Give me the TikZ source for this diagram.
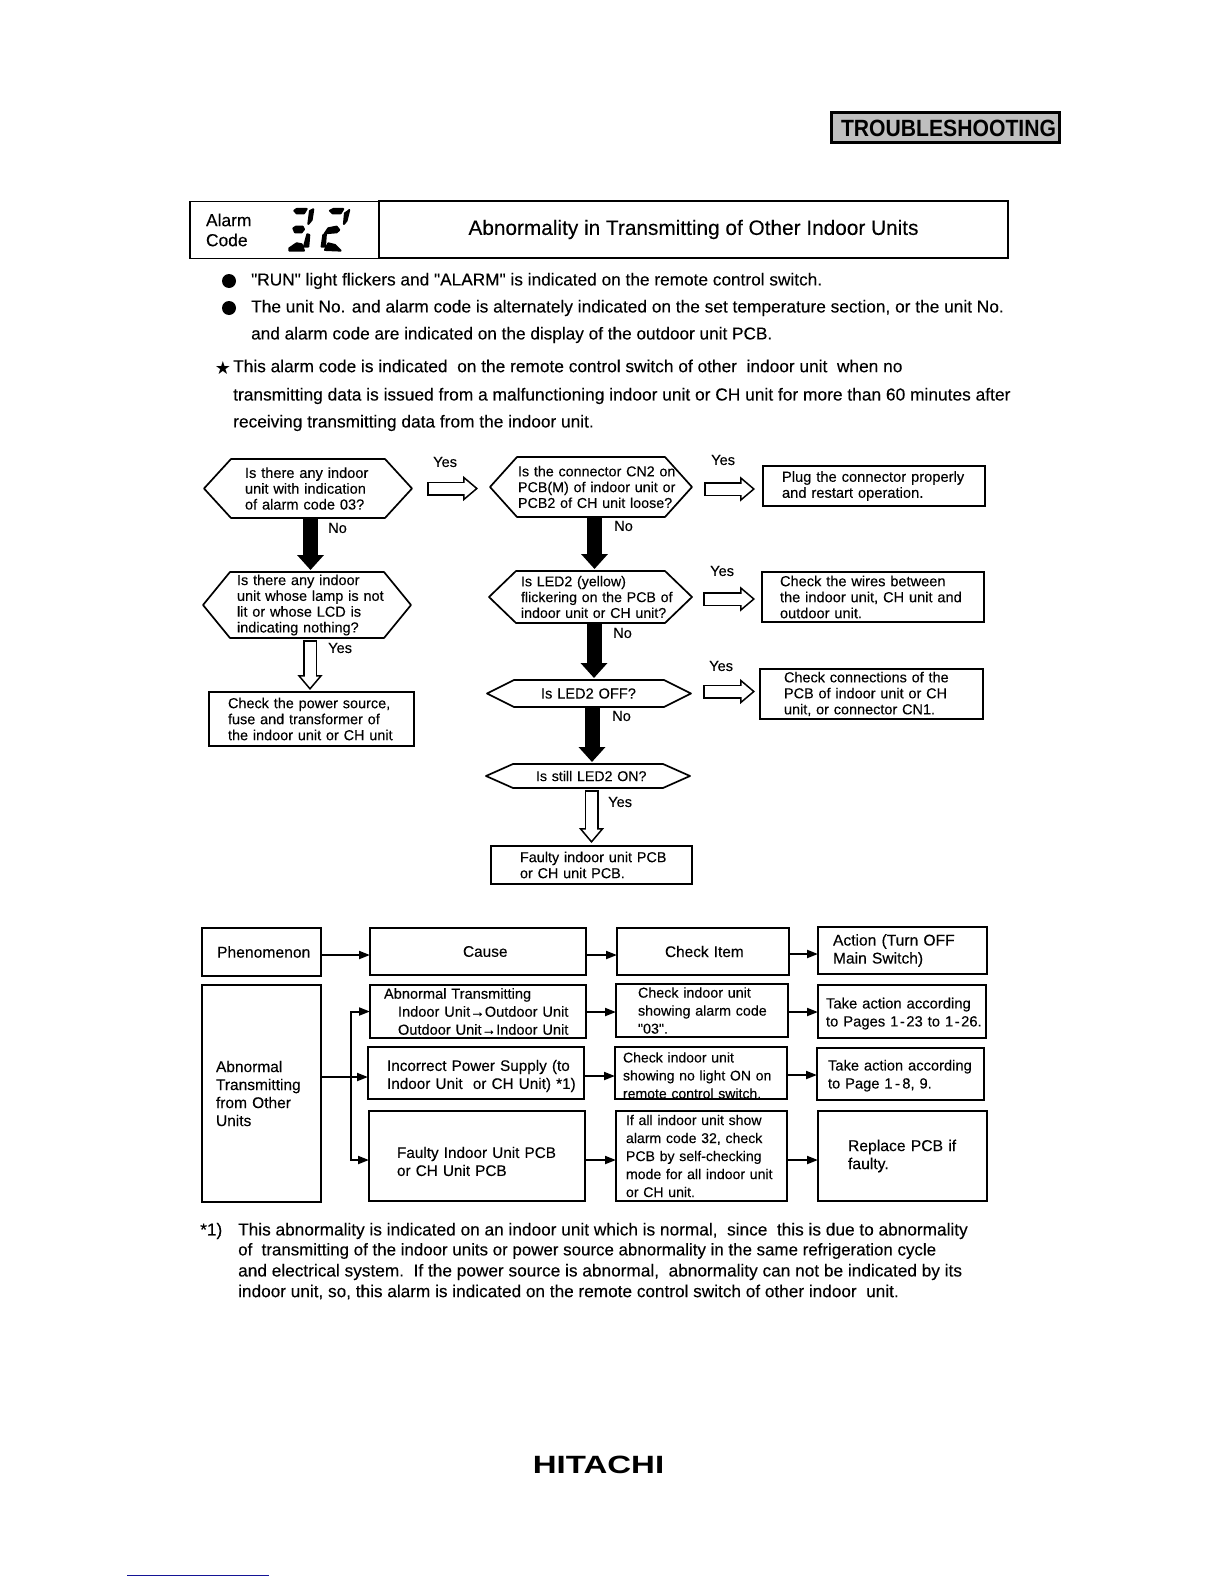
\documentclass[tikz,border=0pt]{standalone}
\usepackage{fontspec}
\setmainfont{Liberation Sans}[UprightFeatures={FakeBold=0.2}]
\newfontfamily\symbolfont{DejaVu Sans}
\newfontfamily\quotefont{Liberation Sans}[FakeBold=0.2]
\newcommand{\qt}{{\quotefont"}}
\usetikzlibrary{arrows.meta}
\definecolor{scanblue}{RGB}{20, 20, 150}
\tikzset{
  hexline/.style={line width=1.7pt, line join=round},
  hextext/.style={inner sep=0pt, outer sep=0pt, align=left},
  flowbox/.style={draw, line width=1.7pt, inner sep=0pt, outer sep=0pt, align=left},
  tag/.style={anchor=west, inner sep=0pt, font=\fontsize{14.6}{16}\selectfont},
  bodyline/.style={anchor=west, inner sep=0pt},
  blackarrow/.style={line width=15pt, -{Triangle[width=26pt, length=15pt]}},
  whitearrow/.style={line width=14pt, -{Triangle[open, fill=white, width=25pt, length=15pt, line width=1.5pt]}},
  whiteshaft/.style={white, line width=11pt},
  smallarrow/.style={line width=2pt, -{Triangle[width=8pt, length=11pt]}}
}
\begin{document}
\begin{tikzpicture}[x=1pt, y=-1pt]
  \useasboundingbox (0,0) rectangle (1224,1584);
  % Page tab
  \node[draw, fill=black!25, line width=2.5pt, minimum width=228pt, minimum height=30pt, inner sep=0pt] (tab) at (945.5,127.5) {};
  \node[inner sep=0pt, xscale=0.9, font=\fontsize{23.5}{24}\selectfont\bfseries] (tabtext) at (948.5,128.5) {TROUBLESHOOTING};
  % Alarm header
  \node[flowbox, minimum width=189pt, minimum height=57pt, text width=189pt, execute at begin node={\leftskip=16pt\relax}, font=\fontsize{17.4}{20}\selectfont] (alarm) at (284.5,230) {Alarm\\Code};
  \node[flowbox, minimum width=629pt, minimum height=57pt, align=center, font=\fontsize{20.8}{24}\selectfont] (title) at (693.5,229.5) {Abnormality in Transmitting of Other Indoor Units};
  % Display digits
  \begin{scope}[shift={(280,200)}, x=0.333pt, y=-0.333pt, line width=2pt, line join=round]
    \filldraw (43,32) -- (50,27) -- (80,27) -- (72,40) -- (50,40) -- cycle;
    \filldraw (90,33) -- (100,28) -- (95,60) -- (85,72) -- cycle;
    \filldraw (40,85) -- (48,80) -- (68,80) -- (72,88) -- (65,97) -- (45,97) -- cycle;
    \filldraw (82,103) -- (88,105) -- (85,140) -- (72,140) -- cycle;
    \filldraw (28,145) -- (50,130) -- (65,133) -- (72,152) -- (28,152) -- cycle;
    \filldraw (150,32) -- (160,27) -- (190,27) -- (182,40) -- (158,40) -- cycle;
    \filldraw (205,33) -- (208,30) -- (200,62) -- (192,72) -- (195,40) -- cycle;
    \filldraw (135,100) -- (145,85) -- (170,80) -- (178,90) -- (170,97) -- cycle;
    \filldraw (130,105) -- (138,100) -- (135,140) -- (125,140) -- cycle;
    \filldraw (135,150) -- (145,130) -- (165,135) -- (182,152) -- cycle;
  \end{scope}
  % Notes
  \node[circle, fill, minimum size=14pt, inner sep=0pt] (dotone) at (229,281) {};
  \node[circle, fill, minimum size=14pt, inner sep=0pt] (dottwo) at (229,308) {};
  \node[inner sep=0pt, font=\symbolfont\fontsize{18}{20}\selectfont] (star) at (223,368) {★};
  \foreach \nm/\xa/\ya/\fs/\txt in {
    noteone/251/281/17.25/{\qt RUN\qt{} light flickers and \qt ALARM\qt{} is indicated on the remote control switch.},
    notetwo/251/308/17.3/{The unit No. and alarm code is alternately indicated on the set temperature section, or the unit No.},
    notethree/251/335/17.2/{and alarm code are indicated on the display of the outdoor unit PCB.},
    notefour/233/366/17.3/{This alarm code is indicated\ \ on the remote control switch of other\ \ indoor unit\ \ when no},
    notefive/233/396/17.35/{transmitting data is issued from a malfunctioning indoor unit or CH unit for more than 60 minutes after},
    notesix/233/423/17.3/{receiving transmitting data from the indoor unit.}
  } {
    \node[bodyline, font=\fontsize{\fs}{20}\selectfont] (\nm) at (\xa,\ya) {\txt};
  }
  % Decision hexagons
  \foreach \nm/\xa/\ya/\xb/\yb/\pad/\fs/\txt in {
    hexone/204/459/412/518/41/14.6/{Is there any indoor\\unit with indication\\of alarm code 03?},
    hextwo/203/572/411/638/34/14.5/{Is there any indoor\\unit whose lamp is not\\lit or whose LCD is\\indicating nothing?},
    hexthree/490/457/692/517/28/14.3/{Is the connector CN2 on\\PCB(M) of indoor unit or\\PCB2 of CH unit loose?},
    hexfour/489/571/692/623/32/14.2/{Is LED2 (yellow)\\flickering on the PCB of\\indoor unit or CH unit?},
    hexfive/487/680/691/707/54/14.6/{Is LED2 OFF?},
    hexsix/486/764/690/788/50/14.2/{Is still LED2 ON?}
  } {
    \node[hextext, minimum width={(\xb-\xa)*1pt}, minimum height={(\yb-\ya)*1pt}, text width={(\xb-\xa)*1pt},
          font=\fontsize{\fs}{15.8}\selectfont,
          execute at begin node={\leftskip=\pad pt\relax}] (\nm) at ({(\xa+\xb)/2},{(\ya+\yb)/2}) {\txt};
    \draw[hexline] (\nm.west) -- ([xshift=27pt]\nm.north west) -- ([xshift=-27pt]\nm.north east)
      -- (\nm.east) -- ([xshift=-27pt]\nm.south east) -- ([xshift=27pt]\nm.south west) -- cycle;
  }
  % Boxes of the flow
  \foreach \nm/\xa/\ya/\xb/\yb/\pad/\fs/\txt in {
    powerbox/209/692/414/746/19/14.45/{Check the power source,\\fuse and transformer of\\the indoor unit or CH unit},
    faultybox/491/846/692/884/29/14.4/{Faulty indoor unit PCB\\or CH unit PCB.},
    plugbox/763/466/985/506/19/14.7/{Plug the connector properly\\and restart operation.},
    wirebox/762/572/984/622/18/14.6/{Check the wires between\\the indoor unit, CH unit and\\outdoor unit.},
    connbox/760/669/983/719/24/14.45/{Check connections of the\\PCB of indoor unit or CH\\unit, or connector CN1.}
  } {
    \node[flowbox, minimum width={(\xb-\xa)*1pt}, minimum height={(\yb-\ya)*1pt}, text width={(\xb-\xa)*1pt},
          font=\fontsize{\fs}{16}\selectfont,
          execute at begin node={\leftskip=\pad pt\relax}] (\nm) at ({(\xa+\xb)/2},{(\ya+\yb)/2}) {\txt};
  }
  % Boxes of the table
  \foreach \nm/\xa/\ya/\xb/\yb/\pad/\fs/\txt in {
    phenom/202/928/321/976/15/15.7/{Phenomenon},
    cause/370/928/586/975/93/15.4/{Cause},
    check/617/928/789/975/48/15.4/{Check Item},
    action/818/927/987/974/15/15.6/{Action (Turn OFF\\Main Switch)},
    abnormal/202/985/321/1202/14/15.5/{Abnormal\\Transmitting\\from Other\\Units},
    causeone/370/985/586/1038/14/14.6/{Abnormal Transmitting\\\hspace*{14pt}Indoor Unit→Outdoor Unit\\\hspace*{14pt}Outdoor Unit→Indoor Unit},
    causetwo/368/1047/584/1099/19/15.3/{\rule{0pt}{17pt}Incorrect Power Supply (to\\Indoor Unit\ \ or CH Unit) *1)},
    causethree/369/1111/585/1201/28/15.3/{\rule{0pt}{22pt}Faulty Indoor Unit PCB\\or CH Unit PCB},
    checkone/616/984/788/1037/22/14.3/{Check indoor unit\\showing alarm code\\\qt 03\qt.},
    checktwo/615/1047/787/1099/8/14.05/{\rule{0pt}{15pt}Check indoor unit\\showing no light ON on\\remote control switch.},
    checkthree/616/1111/787/1201/10/14.1/{If all indoor unit show\\alarm code 32, check\\PCB by self-checking\\mode for all indoor unit\\or CH unit.},
    actionone/818/985/986/1038/8/14.8/{\rule{0pt}{15pt}Take action according\\to Pages 1\kern1.5pt-\kern1.5pt 23 to 1\kern1.5pt-\kern1.5pt 26.},
    actiontwo/817/1048/984/1100/11/14.7/{\rule{0pt}{14pt}Take action according\\to Page 1\,-\,8, 9.},
    actionthree/818/1111/987/1201/30/15.7/{Replace PCB if\\faulty.}
  } {
    \node[flowbox, minimum width={(\xb-\xa)*1pt}, minimum height={(\yb-\ya)*1pt}, text width={(\xb-\xa)*1pt},
          font=\fontsize{\fs}{18}\selectfont,
          execute at begin node={\leftskip=\pad pt\relax}] (\nm) at ({(\xa+\xb)/2},{(\ya+\yb)/2}) {\txt};
  }
  % Yes and No marks
  \foreach \nm/\xa/\ya/\txt in {
    noa/328/528/No, nob/614/526/No, noc/613/633/No, nod/612/716/No,
    yesa/328/648/Yes, yesb/433/462/Yes, yesc/711/460/Yes, yesd/710/571/Yes, yese/709/666/Yes, yesf/608/802/Yes
  } {
    \node[tag] (\nm) at (\xa,\ya) {\txt};
  }
  % Black arrows down
  \foreach \a/\b/\dx in {hexone/hextwo/2.5, hexthree/hexfour/3.5, hexfour/hexfive/3.5, hexfive/hexsix/3} {
    \draw[blackarrow, shorten >=2pt] ([xshift=\dx pt]\a.south) -- ([xshift=\dx pt]\a.south |- \b.north);
  }
  % White arrows
  \foreach \a/\b/\dx/\sa/\sb in {hextwo/powerbox/3/2/2, hexsix/faultybox/3.5/2/3} {
    \draw[whitearrow, shorten <=\sa pt, shorten >=\sb pt] ([xshift=\dx pt]\a.south) -- ([xshift=\dx pt]\a.south |- \b.north);
    \draw[whiteshaft, shorten <={(\sa+1.5)*1pt}, shorten >={(\sb+13)*1pt}] ([xshift=\dx pt]\a.south) -- ([xshift=\dx pt]\a.south |- \b.north);
  }
  \foreach \a/\b/\sa/\sb/\dy in {hexone/hexthree/15/12/0, hexthree/plugbox/12/8/-2, hexfour/wirebox/11/7/-2, hexfive/connbox/12/5/2} {
    \draw[whitearrow, shorten <=\sa pt, shorten >=\sb pt] ([yshift=\dy pt]\a.east) -- ([yshift=\dy pt]\a.east -| \b.west);
    \draw[whiteshaft, shorten <={(\sa+1.5)*1pt}, shorten >={(\sb+13)*1pt}] ([yshift=\dy pt]\a.east) -- ([yshift=\dy pt]\a.east -| \b.west);
  }
  % Table arrows
  \foreach \a/\b/\dy in {
    phenom/cause/3, cause/check/3.5, check/action/2.5,
    causeone/checkone/0.5, checkone/actionone/1.5,
    causetwo/checktwo/3, checktwo/actiontwo/2,
    causethree/checkthree/4, checkthree/actionthree/4
  } {
    \draw[smallarrow] ([yshift=-\dy pt]\a.east) -- ([yshift=-\dy pt]\a.east -| \b.west);
  }
  \coordinate (trunk) at (351,1077);
  \draw[smallarrow] (abnormal.east |- trunk) -- (trunk -| causetwo.west);
  \draw[smallarrow] (trunk) |- (causeone.west);
  \draw[smallarrow] (trunk) |- ([yshift=-4pt]causethree.west);
  % Footnote
  \node[bodyline, font=\fontsize{17.3}{20}\selectfont] (footmark) at (200,1231) {*1)};
  \foreach \nm/\ya/\fs/\txt in {
    footone/1231/17.25/{This abnormality is indicated on an indoor unit which is normal,\ \ since\ \ this is due to abnormality},
    foottwo/1251/16.9/{of\ \ transmitting of the indoor units or power source abnormality in the same refrigeration cycle},
    footthree/1272/17.25/{and electrical system.\ \ If the power source is abnormal,\ \ abnormality can not be indicated by its},
    footfour/1292/17.2/{indoor unit, so, this alarm is indicated on the remote control switch of other indoor\ \ unit.}
  } {
    \node[bodyline, font=\fontsize{\fs}{20}\selectfont] (\nm) at (238,\ya) {\txt};
  }
  % Maker name and rule
  \node[inner sep=0pt, xscale=1.32, font=\fontsize{25}{26}\selectfont\bfseries] (maker) at (598.5,1465) {HITACHI};
  \coordinate (rulea) at (127,1575);
  \coordinate (ruleb) at (269,1575);
  \draw[scanblue, line width=1pt] (rulea) -- (ruleb);
\end{tikzpicture}
\end{document}
